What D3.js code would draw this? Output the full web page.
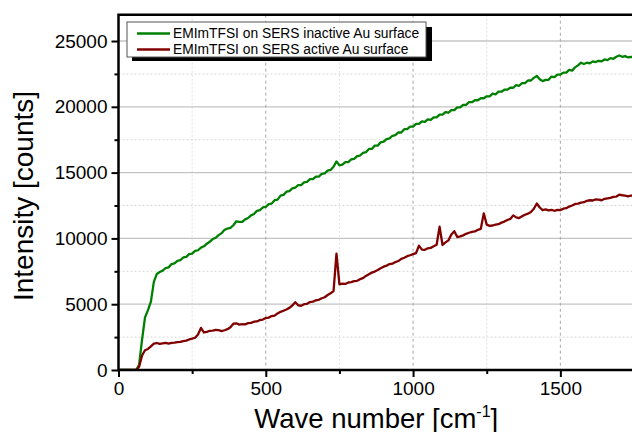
<!DOCTYPE html>
<html>
<head>
<meta charset="utf-8">
<script src="https://cdnjs.cloudflare.com/ajax/libs/d3/7.8.5/d3.min.js"></script>
<style>
  body { margin: 0; background: #fff; }
  svg { display: block; font-family: Arial, "Liberation Sans", sans-serif; }
</style>
</head>
<body>
<svg id="chart" width="632" height="432"></svg>
<script>
// wavenumber grid [cm-1]
var wavenumber = [
  0, 10, 20, 30, 40, 50, 60, 70, 80, 90,
  100, 110, 120, 130, 140, 150, 160, 170, 180, 190,
  200, 210, 220, 230, 240, 250, 260, 270, 280, 290,
  300, 310, 320, 330, 340, 350, 360, 370, 380, 390,
  400, 410, 420, 430, 440, 450, 460, 470, 480, 490,
  500, 510, 520, 530, 540, 550, 560, 570, 580, 590,
  600, 610, 620, 630, 640, 650, 660, 670, 680, 690,
  700, 710, 720, 730, 740, 750, 760, 770, 780, 790,
  800, 810, 820, 830, 840, 850, 860, 870, 880, 890,
  900, 910, 920, 930, 940, 950, 960, 970, 980, 990,
  1000, 1010, 1020, 1030, 1040, 1050, 1060, 1070, 1080, 1090,
  1100, 1110, 1120, 1130, 1140, 1150, 1160, 1170, 1180, 1190,
  1200, 1210, 1220, 1230, 1240, 1250, 1260, 1270, 1280, 1290,
  1300, 1310, 1320, 1330, 1340, 1350, 1360, 1370, 1380, 1390,
  1400, 1410, 1420, 1430, 1440, 1450, 1460, 1470, 1480, 1490,
  1500, 1510, 1520, 1530, 1540, 1550, 1560, 1570, 1580, 1590,
  1600, 1610, 1620, 1630, 1640, 1650, 1660, 1670, 1680, 1690,
  1700, 1710, 1720, 1730, 1740, 1750
];

// EMImTFSI on SERS inactive Au surface
var inactive = [
  0, 0, 0, 0, 0, 0, 0, 400, 2300, 4000,
  4550, 5200, 6700, 7300, 7450, 7550, 7750, 7800, 8050, 8100,
  8300, 8350, 8550, 8600, 8800, 8850, 9050, 9100, 9300, 9400,
  9600, 9750, 9950, 10050, 10250, 10400, 10650, 10750, 10800, 11000,
  11300, 11250, 11250, 11450, 11550, 11750, 11850, 12100, 12150, 12350,
  12400, 12600, 12650, 12900, 12950, 13250, 13300, 13550, 13600, 13800,
  13850, 14050, 14050, 14250, 14300, 14500, 14500, 14700, 14700, 14900,
  14950, 15150, 15200, 15450, 15850, 15550, 15600, 15800, 15800, 16000,
  16050, 16250, 16300, 16500, 16550, 16800, 16800, 17050, 17050, 17300,
  17350, 17550, 17600, 17800, 17850, 18050, 18050, 18300, 18300, 18500,
  18500, 18700, 18700, 18900, 18850, 19050, 19000, 19200, 19200, 19400,
  19400, 19600, 19550, 19750, 19750, 19950, 19950, 20150, 20150, 20350,
  20350, 20500, 20500, 20650, 20650, 20800, 20800, 21000, 20950, 21150,
  21150, 21300, 21300, 21450, 21450, 21650, 21600, 21800, 21800, 22000,
  22000, 22200, 22350, 22100, 21950, 22050, 22050, 22300, 22250, 22450,
  22450, 22600, 22600, 22800, 22750, 23000, 23150, 23350, 23250, 23350,
  23300, 23450, 23400, 23500, 23450, 23600, 23550, 23700, 23650, 23800,
  23900, 23800, 23850, 23750, 23800, 23750
];

// EMImTFSI on SERS active Au surface
var active = [
  0, 0, 0, 0, 0, 0, 0, 250, 1100, 1500,
  1600, 1800, 2000, 2050, 1980, 2020, 2060, 2000, 2060, 2080,
  2120, 2130, 2200, 2230, 2320, 2380, 2450, 2700, 3200, 2850,
  2900, 2980, 3000, 3050, 3030, 2960, 3020, 3100, 3250, 3520,
  3550, 3450, 3480, 3470, 3560, 3580, 3670, 3690, 3800, 3830,
  3950, 3980, 4100, 4130, 4300, 4420, 4500, 4600, 4720, 4900,
  5150, 4920, 4880, 5000, 5030, 5160, 5190, 5300, 5330, 5450,
  5530, 5700, 5830, 6000, 8850, 6500, 6560, 6540, 6650, 6680,
  6760, 6780, 6900, 6980, 7150, 7280, 7400, 7480, 7600, 7730,
  7850, 7930, 8050, 8080, 8200, 8280, 8450, 8530, 8650, 8720,
  8800, 8880, 9450, 9150, 9130, 9250, 9280, 9400, 9520, 10900,
  9500, 9700, 9850, 10300, 10550, 10100, 10150, 10230, 10350, 10430,
  10500, 10530, 10650, 10730, 11900, 11050, 10950, 10980, 11050, 11080,
  11200, 11280, 11400, 11480, 11750, 11600, 11550, 11680, 11800, 11880,
  12000, 12250, 12650, 12350, 12150, 12200, 12130, 12170, 12100, 12160,
  12150, 12260, 12300, 12420, 12500, 12620, 12650, 12720, 12750, 12860,
  12900, 12880, 12960, 12940, 12900, 13010, 13050, 13080, 13150, 13180,
  13320, 13280, 13250, 13200, 13260, 13200
];

var seriesNames = ["EMImTFSI on SERS inactive Au surface", "EMImTFSI on SERS active Au surface"];
var seriesColors = ["#008000", "#800000"];
var xMajorTicks = [0, 500, 1000, 1500];
var xMinorTicks = [250, 750, 1250, 1750];
var yMajorTicks = [0, 5000, 10000, 15000, 20000, 25000];
var yMinorTicks = [2500, 7500, 12500, 17500, 22500];

(function() {
  var svg = d3.select("#chart");
  var pl = 118.5, pr = 634, pt = 14.7, pb = 370;

  var x = d3.scaleLinear().domain([0, 1750]).range([pl, pr]);
  var y = d3.scaleLinear().domain([0, 27000]).range([pb, pt]);

  svg.append("defs").append("clipPath").attr("id", "plotclip")
    .append("rect").attr("x", pl).attr("y", pt)
    .attr("width", pr - pl).attr("height", pb - pt);

  // grid
  var grid = svg.append("g");
  grid.selectAll(".ymin").data(yMinorTicks).enter().append("line")
    .attr("x1", pl).attr("x2", pr)
    .attr("y1", function(d) { return y(d) }).attr("y2", function(d) { return y(d) })
    .attr("stroke", "#d8d8d8").attr("stroke-width", 1).attr("stroke-dasharray", "2,2");
  grid.selectAll(".xmin").data(xMinorTicks).enter().append("line")
    .attr("x1", function(d) { return x(d) }).attr("x2", function(d) { return x(d) })
    .attr("y1", pt).attr("y2", pb)
    .attr("stroke", "#e0e0e0").attr("stroke-width", 1).attr("stroke-dasharray", "2,2");
  grid.selectAll(".ymaj").data(yMajorTicks.slice(1)).enter().append("line")
    .attr("x1", pl).attr("x2", pr)
    .attr("y1", function(d) { return y(d) }).attr("y2", function(d) { return y(d) })
    .attr("stroke", "#c4c4c4").attr("stroke-width", 1.3);
  grid.selectAll(".xmaj").data(xMajorTicks.slice(1)).enter().append("line")
    .attr("x1", function(d) { return x(d) }).attr("x2", function(d) { return x(d) })
    .attr("y1", pt).attr("y2", pb)
    .attr("stroke", "#a8a8a8").attr("stroke-width", 1).attr("stroke-dasharray", "3,3");

  // spectra
  var line = d3.line()
    .x(function(d) { return x(d[0]) })
    .y(function(d) { return y(d[1]) });
  var plot = svg.append("g").attr("clip-path", "url(#plotclip)");
  [inactive, active].forEach(function(vals, i) {
    plot.append("path")
      .datum(wavenumber.map(function(w, j) { return [w, vals[j]] }))
      .attr("d", line)
      .attr("fill", "none")
      .attr("stroke", seriesColors[i])
      .attr("stroke-width", 2.3)
      .attr("stroke-linejoin", "round");
  });

  // axes
  var yAxis = d3.axisLeft(y).tickValues(yMajorTicks).tickSize(7).tickPadding(4).tickFormat(d3.format("d"));
  var yG = svg.append("g").attr("transform", "translate(" + pl + ",0)").call(yAxis);
  yG.select(".domain").remove();
  yG.selectAll(".tick line").attr("stroke", "#000").attr("stroke-width", 2);
  yG.selectAll("text").attr("font-size", 19).attr("fill", "#000").attr("font-family", "Arial, 'Liberation Sans', sans-serif");
  var yMin = d3.axisLeft(y).tickValues(yMinorTicks).tickSize(4).tickFormat("");
  var yMG = svg.append("g").attr("transform", "translate(" + pl + ",0)").call(yMin);
  yMG.select(".domain").remove();
  yMG.selectAll(".tick line").attr("stroke", "#000").attr("stroke-width", 2);

  var xAxis = d3.axisBottom(x).tickValues(xMajorTicks).tickSize(7).tickPadding(5).tickFormat(d3.format("d"));
  var xG = svg.append("g").attr("transform", "translate(0," + pb + ")").call(xAxis);
  xG.select(".domain").remove();
  xG.selectAll(".tick line").attr("stroke", "#000").attr("stroke-width", 2);
  xG.selectAll("text").attr("font-size", 19).attr("fill", "#000").attr("font-family", "Arial, 'Liberation Sans', sans-serif");
  var xMin = d3.axisBottom(x).tickValues(xMinorTicks).tickSize(4).tickFormat("");
  var xMG = svg.append("g").attr("transform", "translate(0," + pb + ")").call(xMin);
  xMG.select(".domain").remove();
  xMG.selectAll(".tick line").attr("stroke", "#000").attr("stroke-width", 2);

  // frame
  svg.append("path")
    .attr("d", "M" + pr + "," + pt + "H" + pl + "V" + pb + "H" + pr)
    .attr("fill", "none").attr("stroke", "#000").attr("stroke-width", 2.5);

  // axis titles
  var xt = svg.append("text")
    .attr("x", (pl + pr) / 2).attr("y", 428)
    .attr("text-anchor", "middle").attr("font-size", 27.5).attr("fill", "#000");
  xt.append("tspan").text("Wave number [cm");
  xt.append("tspan").text("-1").attr("font-size", 16).attr("dy", -11);
  xt.append("tspan").text("]").attr("dy", 11);

  svg.append("text")
    .attr("transform", "translate(33,196) rotate(-90)")
    .attr("text-anchor", "middle").attr("font-size", 28).attr("fill", "#000")
    .text("Intensity [counts]");

  // legend
  var lg = svg.append("g");
  lg.append("rect").attr("x", 132).attr("y", 27).attr("width", 300).attr("height", 34).attr("fill", "#000");
  lg.append("rect").attr("x", 127).attr("y", 22).attr("width", 299).attr("height", 35)
    .attr("fill", "#fff").attr("stroke", "#555").attr("stroke-width", 1);
  seriesNames.forEach(function(name, i) {
    var yy = 33.5 + i * 16;
    lg.append("line").attr("x1", 137).attr("x2", 170).attr("y1", yy).attr("y2", yy)
      .attr("stroke", seriesColors[i]).attr("stroke-width", 2.5);
    lg.append("text").attr("x", 173).attr("y", yy + 4.8)
      .attr("font-size", 13.8).attr("fill", "#000").text(name);
  });
})();
</script>
</body>
</html>
